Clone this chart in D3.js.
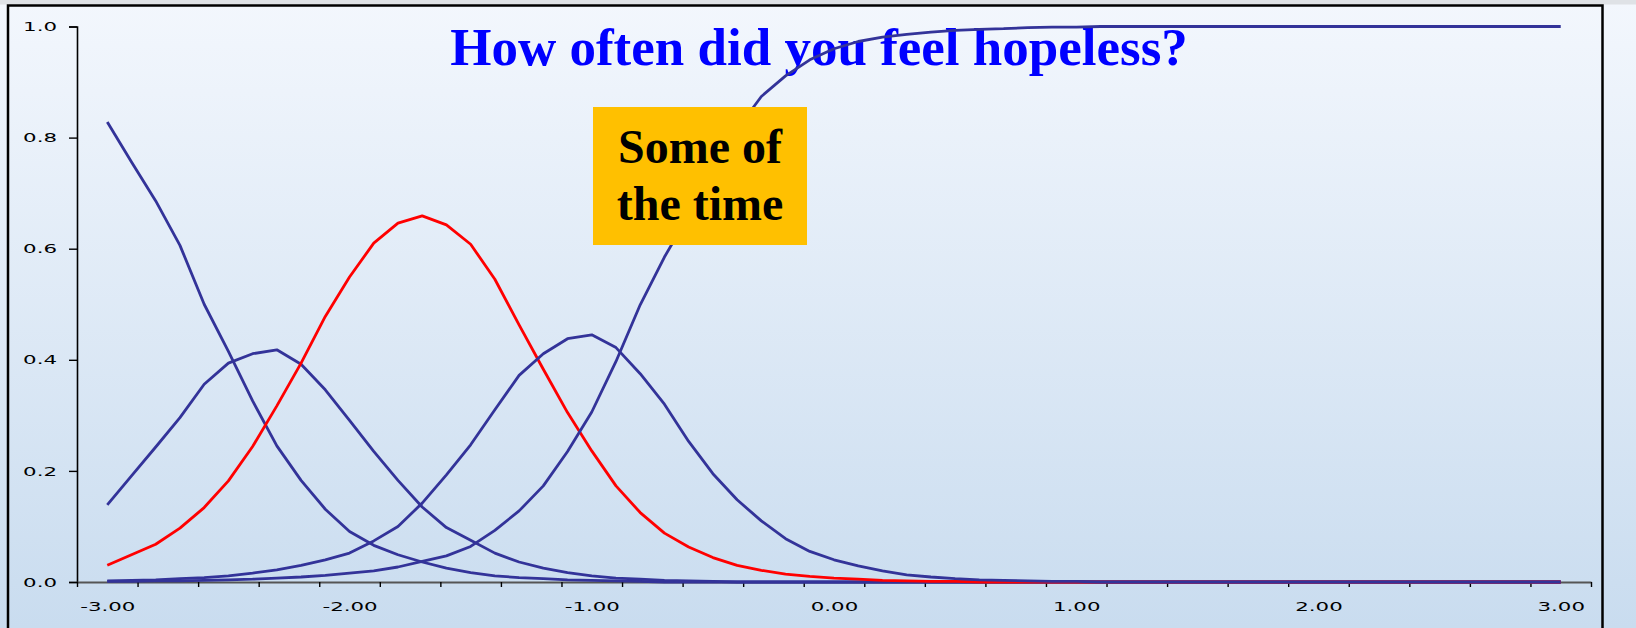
<!DOCTYPE html>
<html>
<head>
<meta charset="utf-8">
<script src="https://cdn.jsdelivr.net/npm/d3@7"></script>
<style>
  body { margin: 0; overflow: hidden; background: #eef4fb; }
</style>
</head>
<body>
<div id="chart"></div>
<script>
// Theta values (categories on the x axis)
var theta = [-3.0,-2.9,-2.8,-2.7,-2.6,-2.5,-2.4,-2.3,-2.2,-2.1,
  -2.0,-1.9,-1.8,-1.7,-1.6,-1.5,-1.4,-1.3,-1.2,-1.1,
  -1.0,-0.9,-0.8,-0.7,-0.6,-0.5,-0.4,-0.3,-0.2,-0.1,
  0.0,0.1,0.2,0.3,0.4,0.5,0.6,0.7,0.8,0.9,
  1.0,1.1,1.2,1.3,1.4,1.5,1.6,1.7,1.8,1.9,
  2.0,2.1,2.2,2.3,2.4,2.5,2.6,2.7,2.8,2.9,
  3.0];

// Response categories
var categories = ["None of the time", "A little of the time", "Some of the time", "Most of the time", "All of the time"];
var highlighted = "Some of the time";

// Category probability curves
var noneOfTime = [0.828,0.756,0.686,0.606,0.500,0.415,0.326,0.245,0.183,0.131,
  0.091,0.066,0.049,0.036,0.025,0.017,0.011,0.008,0.006,0.004,
  0.003,0.002,0.001,0,0,0,0,0,0,0,
  0,0,0,0,0,0,0,0,0,0,
  0,0,0,0,0,0,0,0,0,0,
  0,0,0,0,0,0,0,0,0,0,
  0];
var littleOfTime = [0.139,0.191,0.243,0.296,0.356,0.394,0.411,0.418,0.392,0.346,
  0.291,0.235,0.183,0.135,0.098,0.075,0.052,0.036,0.025,0.017,
  0.011,0.007,0.005,0.003,0.002,0.001,0,0,0,0,
  0,0,0,0,0,0,0,0,0,0,
  0,0,0,0,0,0,0,0,0,0,
  0,0,0,0,0,0,0,0,0,0,
  0];
var someOfTime = [0.030,0.049,0.068,0.097,0.134,0.182,0.244,0.317,0.394,0.478,
  0.549,0.610,0.646,0.659,0.643,0.608,0.545,0.463,0.383,0.305,
  0.236,0.173,0.125,0.088,0.063,0.044,0.030,0.021,0.014,0.010,
  0.007,0.005,0.003,0.002,0.001,0.001,0,0,0,0,
  0,0,0,0,0,0,0,0,0,0,
  0,0,0,0,0,0,0,0,0,0,
  0];
var mostOfTime = [0.002,0.003,0.004,0.006,0.008,0.011,0.016,0.022,0.030,0.040,
  0.052,0.074,0.100,0.142,0.193,0.247,0.310,0.372,0.411,0.438,
  0.445,0.422,0.375,0.320,0.253,0.195,0.148,0.110,0.078,0.055,
  0.040,0.029,0.020,0.013,0.009,0.006,0.004,0.003,0.002,0.001,
  0.001,0,0,0,0,0,0,0,0,0,
  0,0,0,0,0,0,0,0,0,0,
  0];
var allOfTime = [0.001,0.001,0.002,0.002,0.003,0.004,0.005,0.007,0.009,0.012,
  0.016,0.020,0.027,0.037,0.047,0.064,0.093,0.128,0.173,0.235,
  0.306,0.397,0.499,0.585,0.660,0.745,0.815,0.874,0.911,0.940,
  0.960,0.973,0.981,0.986,0.990,0.993,0.995,0.996,0.998,0.999,
  0.999,1,1,1,1,1,1,1,1,1,
  1,1,1,1,1,1,1,1,1,1,
  1];

// Tick labels
var yTicks = [0, 0.2, 0.4, 0.6, 0.8, 1.0];
var xLabels = [-3, -2, -1, 0, 1, 2, 3];
var xTickMarks = [-3.125,-2.875,-2.625,-2.375,-2.125,-1.875,-1.625,-1.375,-1.125,-0.875,
  -0.625,-0.375,-0.125,0.125,0.375,0.625,0.875,1.125,1.375,1.625,
  1.875,2.125,2.375,2.625,2.875,3.125];

var seriesValues = [noneOfTime, littleOfTime, someOfTime, mostOfTime, allOfTime];

var W = 1636, H = 628;

var svg = d3.select("#chart")
  .append("svg")
    .attr("width", W)
    .attr("height", H);

// Background gradient
var grad = svg.append("defs").append("linearGradient")
    .attr("id", "bg")
    .attr("x1", 0).attr("y1", 0).attr("x2", 0).attr("y2", 1);
grad.append("stop").attr("offset", "0%").attr("stop-color", "#f3f7fd");
grad.append("stop").attr("offset", "100%").attr("stop-color", "#c9dcef");

svg.append("rect")
  .attr("width", W).attr("height", H)
  .attr("fill", "url(#bg)");

svg.append("rect")
  .attr("width", W).attr("height", 4.5)
  .attr("fill", "#dfe2e6");

// Frame
svg.append("rect")
  .attr("x", 8).attr("y", 5.5)
  .attr("width", 1594.5).attr("height", 660)
  .attr("fill", "none")
  .attr("stroke", "#000")
  .attr("stroke-width", 2.5);

// Scales
var x = d3.scaleLinear().domain([-3.125, 3.125]).range([77, 1591]);
var y = d3.scaleLinear().domain([0, 1]).range([582, 26.5]);

// Title (curves are drawn over it)
svg.append("text")
  .attr("x", 819)
  .attr("y", 65)
  .attr("text-anchor", "middle")
  .style("font-family", "'Liberation Serif', 'Times New Roman', serif")
  .style("font-weight", "bold")
  .style("font-size", "53px")
  .style("fill", "#0000ff")
  .text("How often did you feel hopeless?");

var stretch = function(sel) {
  sel.each(function() {
    var w = this.getComputedTextLength();
    d3.select(this)
      .attr("textLength", w * 1.64)
      .attr("lengthAdjust", "spacingAndGlyphs");
  });
};

// hyphen instead of unicode minus, like the original
var fmt1 = function(d) { return d3.format(".1f")(d).replace("\u2212", "-"); };
var fmt2 = function(d) { return d3.format(".2f")(d).replace("\u2212", "-"); };

// Y axis
var yAxis = svg.append("g")
  .attr("transform", "translate(77,0)")
  .call(d3.axisLeft(y).tickValues(yTicks).tickSize(8).tickSizeOuter(8).tickPadding(12).tickFormat(fmt1));
yAxis.select(".domain").attr("stroke", "#000").attr("stroke-width", 1.6);
yAxis.selectAll(".tick line").attr("stroke", "#000").attr("stroke-width", 1.4);
yAxis.selectAll(".tick text")
  .style("font-family", "'DejaVu Sans', Verdana, sans-serif")
  .style("font-size", "13px")
  .attr("fill", "#000")
  .call(stretch);

// X axis tick marks
var xAxis = svg.append("g")
  .attr("transform", "translate(0,582)")
  .call(d3.axisBottom(x).tickValues(xTickMarks).tickSize(5).tickSizeOuter(0).tickFormat(""));
xAxis.select(".domain").attr("stroke", "#555").attr("stroke-width", 2);
xAxis.selectAll(".tick line").attr("stroke", "#000").attr("stroke-width", 1.4);

// X axis labels
var xLab = svg.append("g")
  .attr("transform", "translate(0,582)")
  .call(d3.axisBottom(x).tickValues(xLabels).tickSize(0).tickPadding(0).tickFormat(fmt2));
xLab.select(".domain").remove();
xLab.selectAll(".tick text")
  .attr("y", 29)
  .attr("dy", 0)
  .style("font-family", "'DejaVu Sans', Verdana, sans-serif")
  .style("font-size", "13px")
  .attr("fill", "#000")
  .call(stretch);

// Curves
var line = d3.line()
  .x(function(d) { return x(d[0]); })
  .y(function(d) { return y(d[1]); });

var curves = svg.append("g");
categories.forEach(function(cat, i) {
  var pts = theta.map(function(t, j) { return [t, seriesValues[i][j]]; });
  curves.append("path")
    .datum(pts)
    .attr("class", "curve")
    .attr("fill", "none")
    .attr("stroke", cat === highlighted ? "#ff0000" : "#333399")
    .attr("stroke-width", 2.8)
    .attr("stroke-linejoin", "round")
    .attr("d", line);
});

// Highlight box
svg.append("rect")
  .attr("x", 593).attr("y", 107)
  .attr("width", 214).attr("height", 138)
  .attr("fill", "#ffc000");

var box = svg.append("text")
  .attr("x", 700)
  .attr("text-anchor", "middle")
  .style("font-family", "'Liberation Serif', 'Times New Roman', serif")
  .style("font-weight", "bold")
  .style("font-size", "48px")
  .style("fill", "#000");
box.append("tspan").attr("x", 700).attr("y", 163).text("Some of");
box.append("tspan").attr("x", 700).attr("y", 220).text("the time");
</script>
</body>
</html>
